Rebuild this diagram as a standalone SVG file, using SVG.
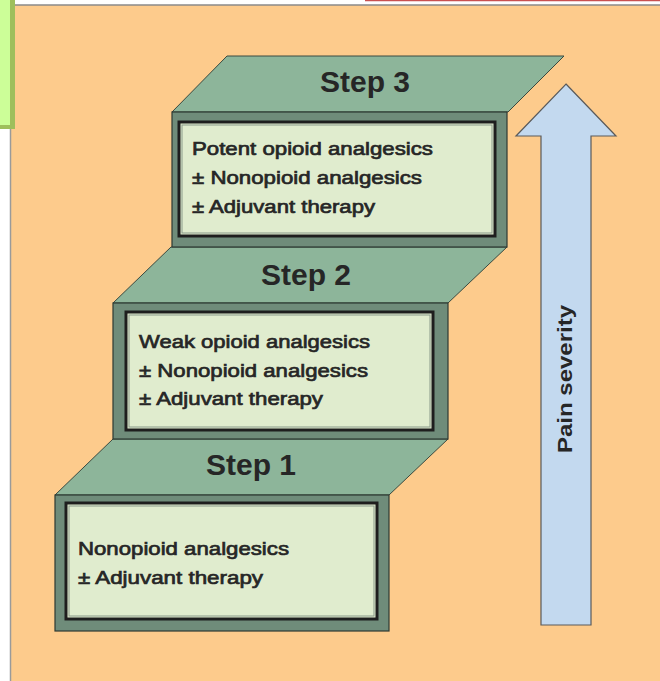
<svg xmlns="http://www.w3.org/2000/svg" width="660" height="681" viewBox="0 0 660 681">
<defs>
<style>
.top{fill:#8db59a;stroke:#3a4a40;stroke-width:1;stroke-linejoin:round}
.front{fill:#6f8c7a;stroke:#2e3a33;stroke-width:1.2}
.inner{fill:#e0ecce;stroke:#1e1e1e;stroke-width:3}
.innerline{fill:none;stroke:#8a9a8a;stroke-width:1}
.body{font-family:"Liberation Sans",Arial,sans-serif;font-size:19px;fill:#262626;stroke:#262626;stroke-width:0.7}
.step{font-family:"Liberation Sans",Arial,sans-serif;font-size:30px;font-weight:bold;fill:#262626;text-anchor:middle}
.label{font-family:"Liberation Sans",Arial,sans-serif;font-size:21px;font-weight:bold;fill:#262626;text-anchor:middle}
</style>
</defs>
<rect x="0" y="0" width="660" height="681" fill="#ffffff"/>
<rect x="11" y="5" width="649" height="676" fill="#fdcb8c"/>
<line x1="10.5" y1="5" x2="10.5" y2="681" stroke="#9a9a9a" stroke-width="1.5"/>
<line x1="10" y1="5" x2="660" y2="5" stroke="#8a8a8a" stroke-width="1.5"/>
<line x1="365" y1="0.5" x2="660" y2="0.5" stroke="#c85050" stroke-width="1.5"/>
<g id="corner-box">
<rect x="0" y="0" width="15" height="129" fill="#9ebf5c"/>
<rect x="0" y="0" width="10" height="125" fill="#ccfe98"/>
</g>
<g id="step1">
<polygon class="top" points="113,439 448,439 389,495 55,495"/>
<rect class="front" x="55" y="495" width="334" height="136"/>
<rect class="inner" x="66" y="503" width="311" height="116"/>
<rect class="innerline" x="69" y="506" width="305" height="110"/>
<text class="step" x="251" y="475">Step 1</text>
<text class="body" x="78" y="555" textLength="211" lengthAdjust="spacingAndGlyphs">Nonopioid analgesics</text>
<text class="body" x="78" y="584" textLength="185" lengthAdjust="spacingAndGlyphs">± Adjuvant therapy</text>
</g>
<g id="step2">
<polygon class="top" points="171,247 507,247 448,303 113,303"/>
<rect class="front" x="113" y="303" width="335" height="136"/>
<rect class="inner" x="126" y="312" width="307" height="118"/>
<rect class="innerline" x="129" y="315" width="301" height="112"/>
<text class="step" x="306" y="285">Step 2</text>
<text class="body" x="139" y="348" textLength="231" lengthAdjust="spacingAndGlyphs">Weak opioid analgesics</text>
<text class="body" x="139" y="377" textLength="229" lengthAdjust="spacingAndGlyphs">± Nonopioid analgesics</text>
<text class="body" x="139" y="405" textLength="184" lengthAdjust="spacingAndGlyphs">± Adjuvant therapy</text>
</g>
<g id="step3">
<polygon class="top" points="227,56 564,56 508,112 172,112"/>
<rect class="front" x="172" y="112" width="335" height="135"/>
<rect class="inner" x="179" y="122" width="316" height="114"/>
<rect class="innerline" x="182" y="125" width="310" height="108"/>
<text class="step" x="365" y="92">Step 3</text>
<text class="body" x="192" y="155" textLength="241" lengthAdjust="spacingAndGlyphs">Potent opioid analgesics</text>
<text class="body" x="192" y="184" textLength="230" lengthAdjust="spacingAndGlyphs">± Nonopioid analgesics</text>
<text class="body" x="192" y="213" textLength="183" lengthAdjust="spacingAndGlyphs">± Adjuvant therapy</text>
</g>
<g id="severity-arrow">
<polygon points="566,84 616,136 591,136 591,625 541,625 541,136 516,136" fill="#c3d9ef" stroke="#5a5a5a" stroke-width="1.2" stroke-linejoin="miter"/>
<text class="label" transform="translate(572,379) rotate(-90)" x="0" y="0" textLength="148" lengthAdjust="spacingAndGlyphs">Pain severity</text>
</g>
</svg>
